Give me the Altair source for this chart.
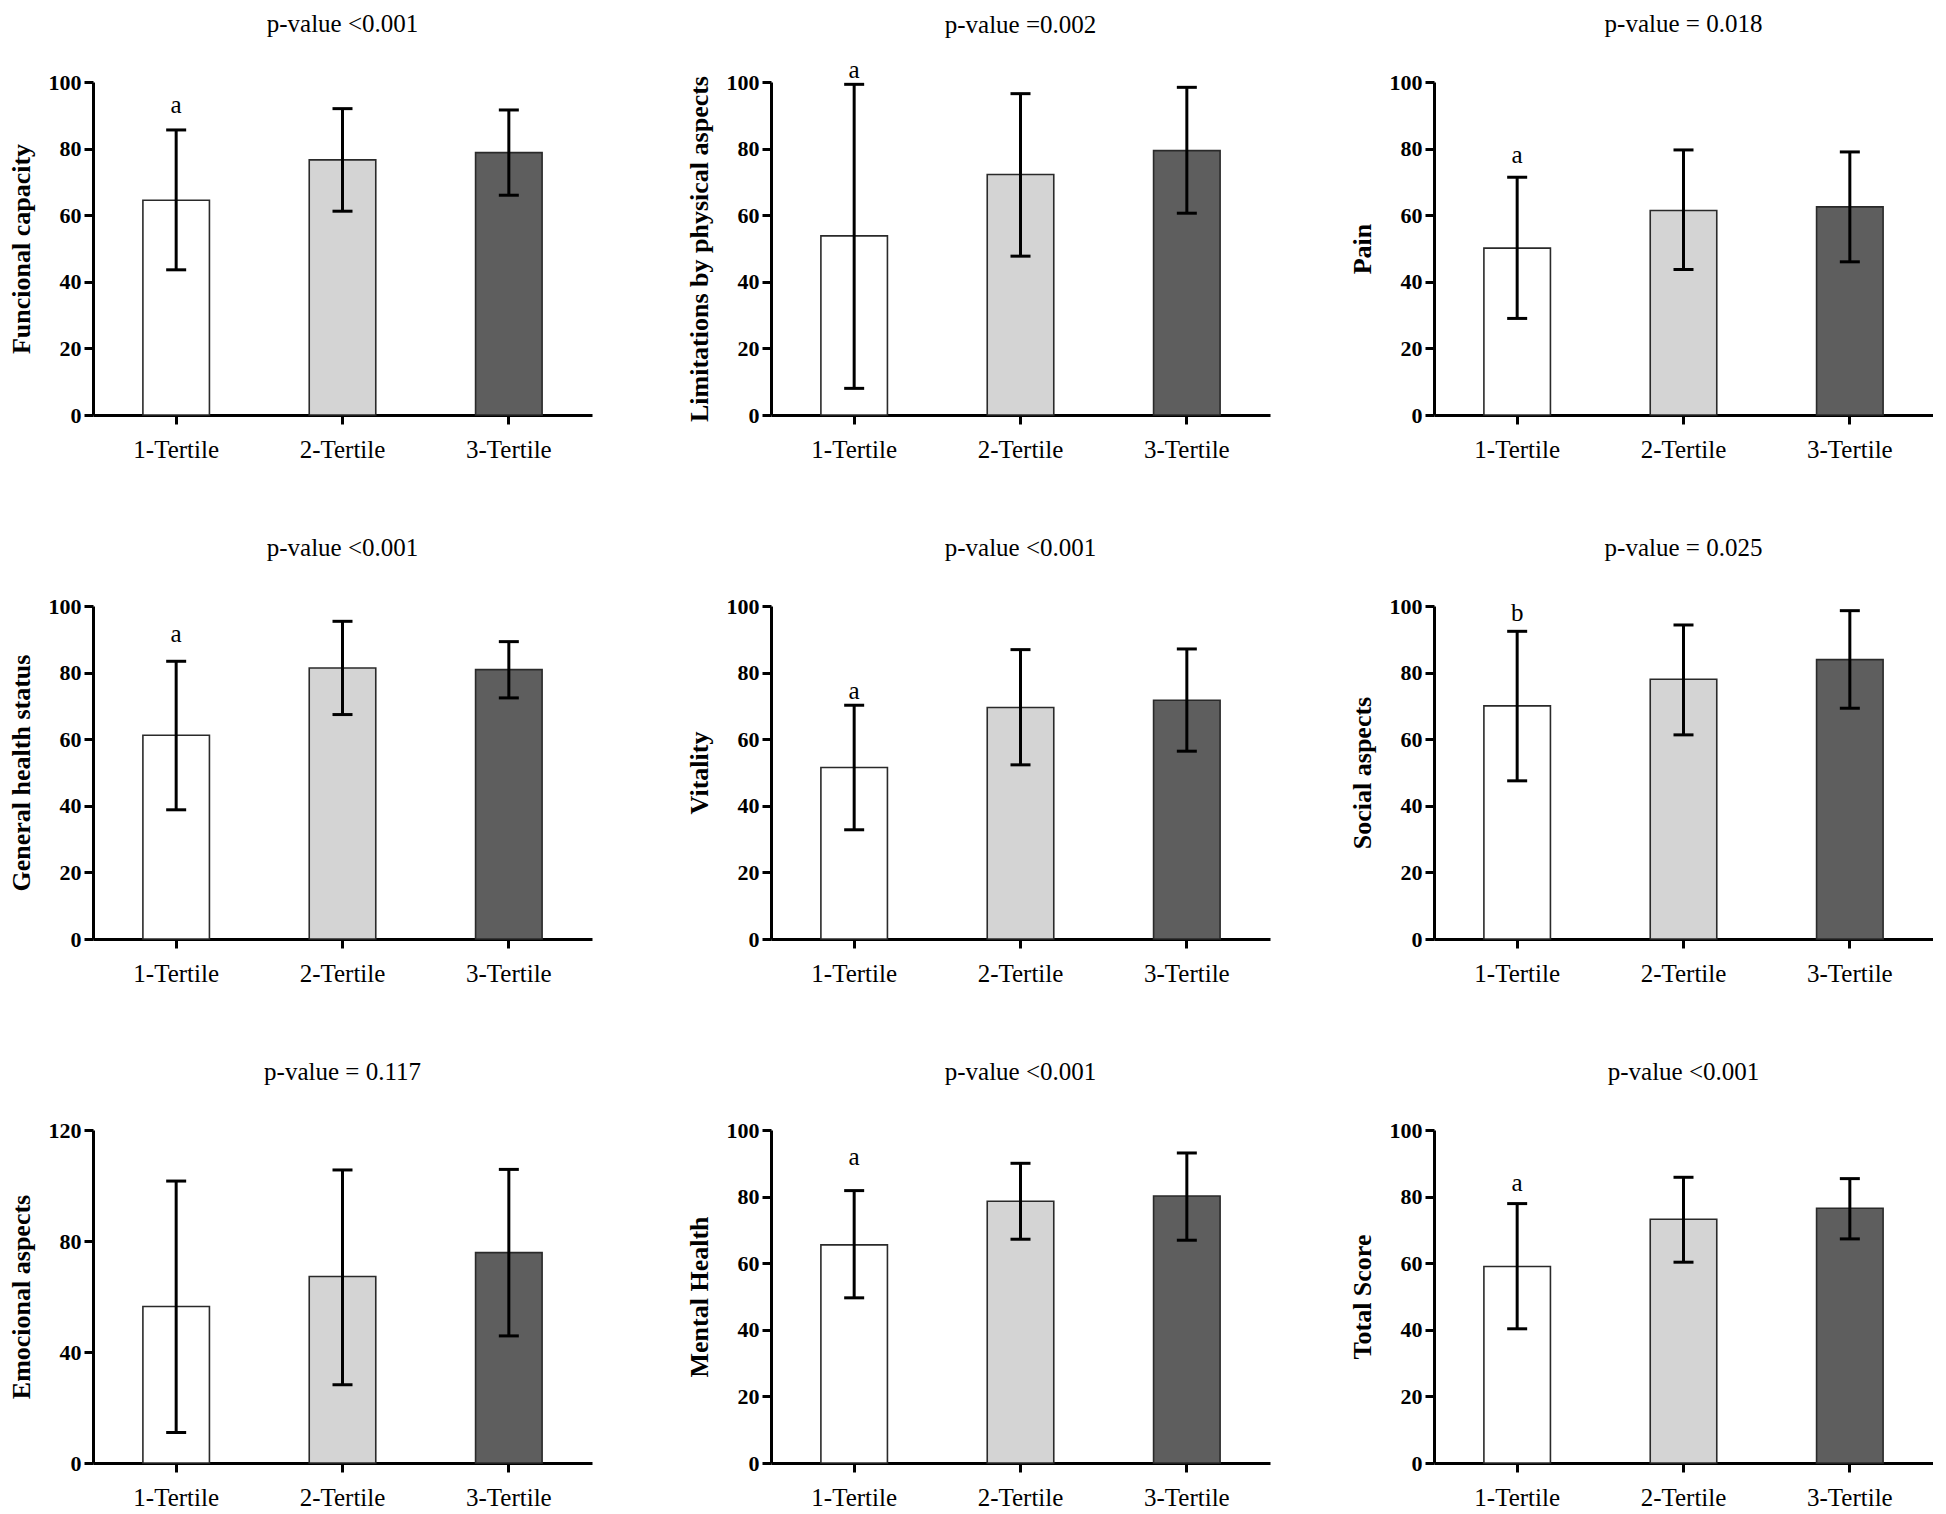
import altair as alt
import pandas as pd

# ---------------- data ----------------
tertiles = ["1-Tertile", "2-Tertile", "3-Tertile"]

domains = ["Funcional capacity", "Limitations by physical aspects", "Pain",
           "General health status", "Vitality", "Social aspects",
           "Emocional aspects", "Mental Health", "Total Score"]

p_labels = ["p-value <0.001", "p-value =0.002", "p-value = 0.018",
            "p-value <0.001", "p-value <0.001", "p-value = 0.025",
            "p-value = 0.117", "p-value <0.001", "p-value <0.001"]

# mean per tertile (one value per panel)
mean_t1 = [64.5, 53.8, 50.1, 61.2, 51.5, 70.0, 56.4, 65.5, 59.0]
mean_t2 = [76.6, 72.2, 61.4, 81.4, 69.5, 78.0, 67.2, 78.6, 73.2]
mean_t3 = [78.8, 79.4, 62.5, 80.9, 71.7, 83.9, 75.8, 80.2, 76.5]

# error bar lower / upper ends
low_t1 = [43.6, 8.0, 29.0, 38.8, 32.8, 47.5, 11.0, 49.6, 40.3]
low_t2 = [61.2, 47.7, 43.7, 67.4, 52.3, 61.3, 28.2, 67.2, 60.3]
low_t3 = [66.0, 60.6, 46.0, 72.4, 56.4, 69.3, 45.8, 66.9, 67.3]
high_t1 = [85.6, 99.3, 71.4, 83.4, 70.2, 92.4, 101.6, 81.8, 77.9]
high_t2 = [92.0, 96.5, 79.6, 95.4, 86.9, 94.3, 105.6, 90.0, 85.8]
high_t3 = [91.6, 98.4, 79.0, 89.3, 87.1, 98.6, 105.8, 93.1, 85.4]

# significance letters over the 1st tertile
letters = ["a", "a", "a", "a", "a", "b", "", "a", "a"]
letter_pos = [93.0, 103.5, 78.0, 91.5, 74.5, 98.0, 0.0, 92.0, 84.0]

# y-axis extent and tick step
y_max = [100, 100, 100, 100, 100, 100, 120, 100, 100]
y_step = [20, 20, 20, 20, 20, 20, 40, 20, 20]

# ---------------- styling ----------------
SERIF = "Liberation Serif"
FILLS = ["#ffffff", "#d4d4d4", "#5e5e5e"]
W, H = 499, 333
TITLE_FS = 25
LETTER_FS = 25
TITLE_GAP = 25


def panel(i):
    df = pd.DataFrame({
        "tertile": tertiles,
        "mean": [mean_t1[i], mean_t2[i], mean_t3[i]],
        "low": [low_t1[i], low_t2[i], low_t3[i]],
        "high": [high_t1[i], high_t2[i], high_t3[i]],
    })
    ymax = y_max[i]
    yscale = alt.Scale(domain=[0, ymax], nice=False, zero=True)
    xscale = alt.Scale(domain=tertiles, paddingInner=0.6, paddingOuter=0.3)

    x_enc = alt.X("tertile:N", sort=tertiles, scale=xscale, axis=alt.Axis(
        title=None, labelAngle=0, labelFont=SERIF, labelFontSize=25,
        labelColor="black", labelPadding=13, tickSize=9, tickWidth=3,
        tickColor="black", domainColor="black", domainWidth=3, grid=False))

    y_enc = alt.Y("mean:Q", scale=yscale, axis=alt.Axis(
        title=domains[i], values=list(range(0, ymax + 1, y_step[i])),
        labelFont=SERIF, labelFontSize=22, labelFontWeight="bold",
        labelColor="black", labelPadding=3, tickSize=9, tickWidth=3,
        tickColor="black", domainColor="black", domainWidth=3, grid=False,
        titleFont=SERIF, titleFontSize=26, titleFontWeight="bold",
        titleColor="black", titlePadding=14))

    base = alt.Chart(df)
    bars = base.mark_bar(stroke="#2a2a2a", strokeWidth=1.6).encode(
        x=x_enc, y=y_enc,
        fill=alt.Fill("tertile:N", scale=alt.Scale(domain=tertiles, range=FILLS),
                      legend=None))
    err = base.mark_rule(color="black", strokeWidth=3).encode(
        x=alt.X("tertile:N", sort=tertiles), y="low:Q", y2="high:Q")
    cap_lo = base.mark_tick(color="black", thickness=3, size=20, opacity=1).encode(
        x=alt.X("tertile:N", sort=tertiles), y="low:Q")
    cap_hi = base.mark_tick(color="black", thickness=3, size=20, opacity=1).encode(
        x=alt.X("tertile:N", sort=tertiles), y="high:Q")
    layers = [bars, err, cap_lo, cap_hi]

    top_px = -11.0
    if letters[i]:
        ldf = pd.DataFrame({"tertile": [tertiles[0]], "pos": [letter_pos[i]],
                            "letter": [letters[i]]})
        txt = alt.Chart(ldf).mark_text(font=SERIF, fontSize=LETTER_FS,
                                       color="black", baseline="middle").encode(
            x=alt.X("tertile:N", sort=tertiles), y="pos:Q", text="letter:N")
        layers.append(txt)
        top_px = min(top_px, (1 - letter_pos[i] / ymax) * H - LETTER_FS / 2)

    return alt.layer(*layers).properties(
        width=W, height=H,
        title=alt.TitleParams(text=p_labels[i], font=SERIF, fontSize=TITLE_FS,
                              fontWeight="normal", color="black",
                              baseline="alphabetic", anchor="middle",
                              frame="group", offset=TITLE_GAP + top_px))


rows = []
for r in range(3):
    p = [panel(3 * r + c) for c in range(3)]
    inner = alt.hconcat(p[0], p[1], spacing=94).resolve_scale(y="independent")
    row = alt.hconcat(inner, p[2], spacing=79).resolve_scale(y="independent")
    rows.append(row)

chart = alt.vconcat(*rows, spacing=74).resolve_scale(y="independent").properties(
    padding={"left": 0, "top": 4, "right": 0, "bottom": 0},
    background="white",
).configure_view(strokeWidth=0, stroke="transparent")

chart.save("out.html", embed_options={"renderer": "svg", "actions": False})
